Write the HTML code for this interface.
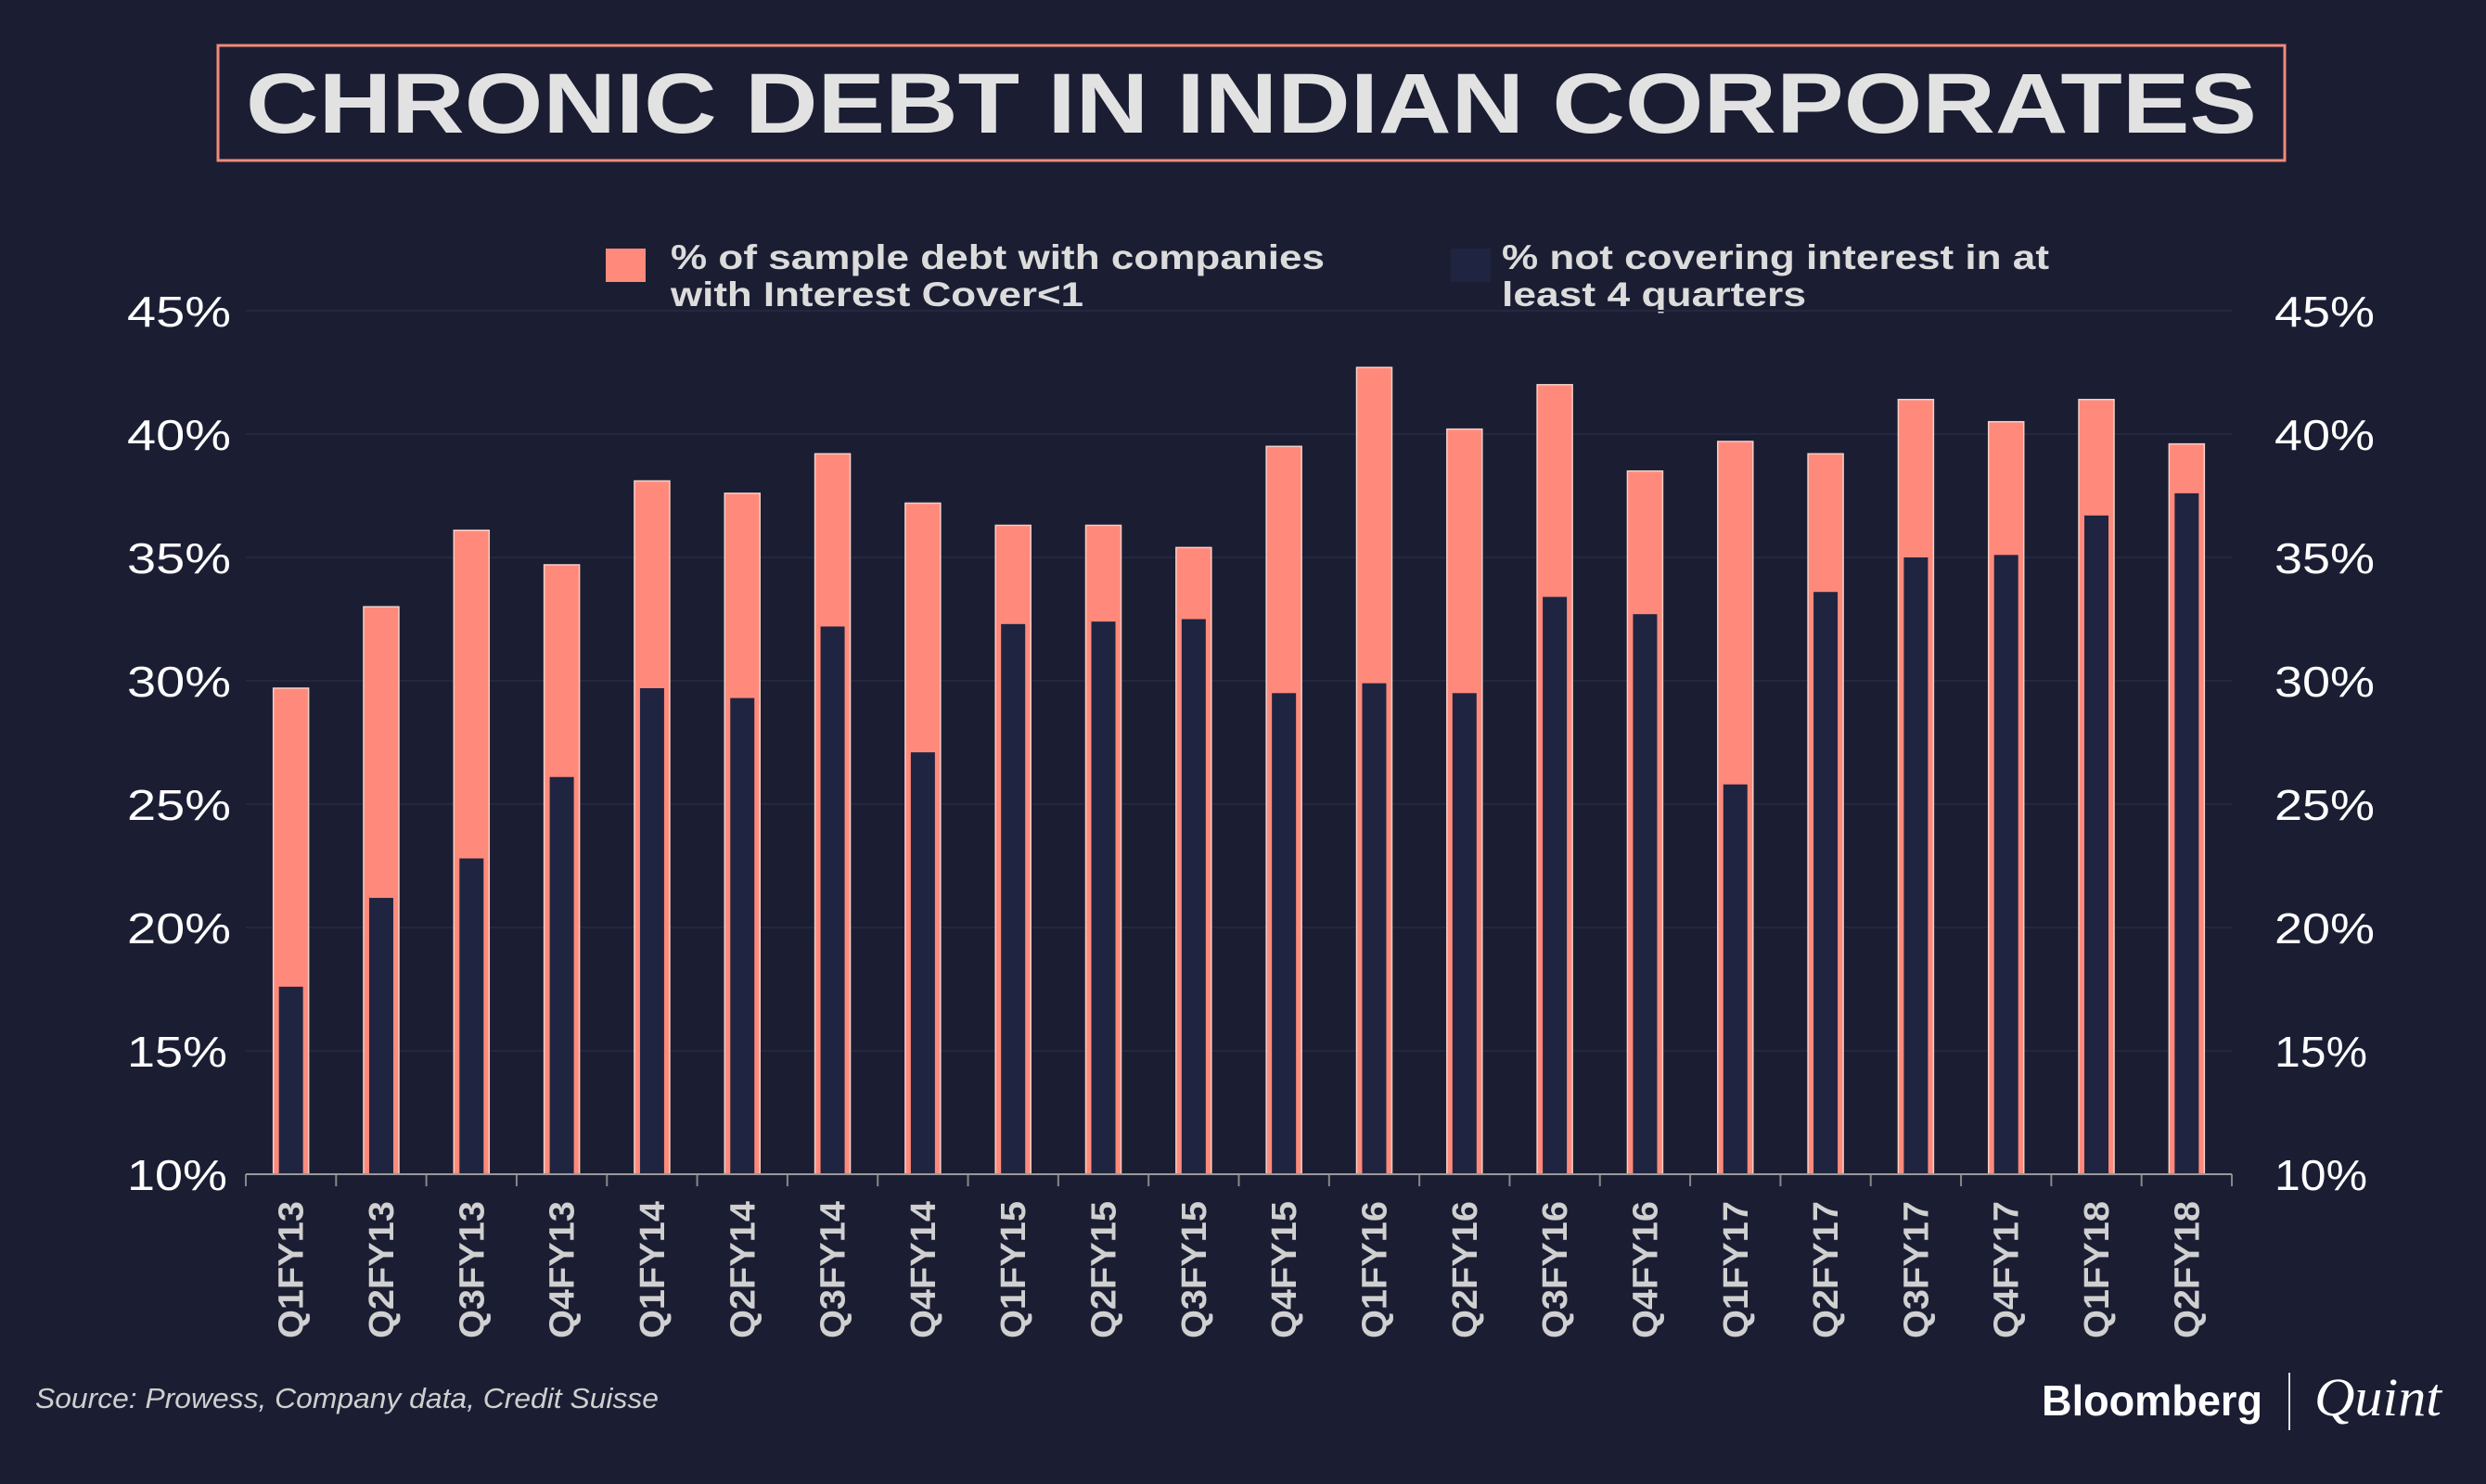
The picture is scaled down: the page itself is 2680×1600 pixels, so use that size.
<!DOCTYPE html>
<html><head><meta charset="utf-8"><style>
html,body{margin:0;padding:0;background:#1b1e33;}
svg{display:block;}
text{font-family:"Liberation Sans",sans-serif;}
</style></head><body>
<svg id="chart" width="2680" height="1600" viewBox="0 0 2680 1600">
<rect x="0" y="0" width="2680" height="1600" fill="#1b1e33"/>
<rect x="235" y="49" width="2228" height="124" fill="none" stroke="#f08a7a" stroke-width="3"/>
<text x="1349" y="143" text-anchor="middle" font-size="92" font-weight="bold" fill="#e2e2e2" textLength="2168" lengthAdjust="spacingAndGlyphs">CHRONIC DEBT IN INDIAN CORPORATES</text>
<g>
<rect x="653" y="268" width="43" height="36" fill="#ff8a7c"/>
<text font-size="37" font-weight="bold" fill="#dcdcdc"><tspan x="723" y="290" textLength="705" lengthAdjust="spacingAndGlyphs">% of sample debt with companies</tspan><tspan x="723" y="330" textLength="445" lengthAdjust="spacingAndGlyphs">with Interest Cover&lt;1</tspan></text>
<rect x="1564" y="268" width="43" height="36" fill="#1f2540"/>
<text font-size="37" font-weight="bold" fill="#dcdcdc"><tspan x="1619" y="290" textLength="590" lengthAdjust="spacingAndGlyphs">% not covering interest in at</tspan><tspan x="1619" y="330" textLength="328" lengthAdjust="spacingAndGlyphs">least 4 quarters</tspan></text>
</g>
<g id="grid"></g><g id="bars"></g><g id="axes"></g>
<text x="38" y="1518" font-size="31" font-style="italic" fill="#cfcfcf" textLength="672" lengthAdjust="spacingAndGlyphs">Source: Prowess, Company data, Credit Suisse</text>
<text x="2201" y="1526" font-size="46" font-weight="bold" fill="#ffffff" textLength="238" lengthAdjust="spacingAndGlyphs">Bloomberg</text>
<line x1="2468" y1="1480" x2="2468" y2="1542" stroke="#ddd" stroke-width="2"/>
<text x="2495" y="1526" font-size="58" font-style="italic" style="font-family:'Liberation Serif',serif" fill="#ffffff" textLength="137" lengthAdjust="spacingAndGlyphs">Quint</text>
</svg>
<script>
const categories=["Q1FY13","Q2FY13","Q3FY13","Q4FY13","Q1FY14","Q2FY14","Q3FY14","Q4FY14","Q1FY15","Q2FY15","Q3FY15","Q4FY15","Q1FY16","Q2FY16","Q3FY16","Q4FY16","Q1FY17","Q2FY17","Q3FY17","Q4FY17","Q1FY18","Q2FY18"];
const interestCover=[29.7,33.0,36.1,34.7,38.1,37.6,39.2,37.2,36.3,36.3,35.4,39.5,42.7,40.2,42.0,38.5,39.7,39.2,41.4,40.5,41.4,39.6];
const notCovering=[17.6,21.2,22.8,26.1,29.7,29.3,32.2,27.1,32.3,32.4,32.5,29.5,29.9,29.5,33.4,32.7,25.8,33.6,35.0,35.1,36.7,37.6];
const yTicks=[10,15,20,25,30,35,40,45];
const yTickLabels=["10%","15%","20%","25%","30%","35%","40%","45%"];
const NS="http://www.w3.org/2000/svg";
const X0=265,X1=2406,Y0=1266,Y45=335,VMIN=10,VMAX=45;
const step=(X1-X0)/categories.length;
function y(v){return Y0-(v-VMIN)/(VMAX-VMIN)*(Y0-Y45);}
function xc(i){return X0+step*(i+0.5);}
function mk(tag,attrs,parent){const e=document.createElementNS(NS,tag);for(const k in attrs)e.setAttribute(k,attrs[k]);parent.appendChild(e);return e;}
const grid=document.getElementById('grid'),bars=document.getElementById('bars'),axes=document.getElementById('axes');
yTicks.forEach((t,i)=>{
  if(i>0){const g=mk('line',{x1:X0,x2:X1,y1:y(t),y2:y(t),stroke:'#23283f','stroke-width':2},grid);
  
  }
  const l=mk('text',{x:137,y:y(t)+17,'font-size':46,fill:'#ffffff',textLength:(t>=10&&String(t)[0]==='1'?108:112),lengthAdjust:'spacingAndGlyphs'},axes);l.textContent=yTickLabels[i];
  
  
  const r=mk('text',{x:2452,y:y(t)+17,'font-size':46,fill:'#ffffff',textLength:(String(t)[0]==='1'?100:108),lengthAdjust:'spacingAndGlyphs'},axes);r.textContent=yTickLabels[i];
  
  
});
categories.forEach((c,i)=>{
  const cx=xc(i);
  const p=mk('rect',{x:cx-19,y:y(interestCover[i]),width:38,height:Y0-y(interestCover[i]),fill:'#ff8a7c',stroke:'#f4d0c8','stroke-width':1.5},bars);
  
  
  const n=mk('rect',{x:cx-13,y:y(notCovering[i]),width:26,height:Y0-y(notCovering[i]),fill:'#1f2540'},bars);
  
  
  const t=mk('text',{transform:`translate(${cx+13},1443) rotate(-90)`,'font-size':38,'font-weight':'bold',fill:'#d0d0d0',textLength:148,lengthAdjust:'spacingAndGlyphs'},axes);t.textContent=c;
  
  
});
for(let i=0;i<=categories.length;i++){
  const tk=mk('line',{x1:X0+step*i,x2:X0+step*i,y1:Y0,y2:Y0+13,stroke:'#888','stroke-width':2},axes);
  
  
}
const ax=mk('line',{x1:X0,x2:X1,y1:Y0,y2:Y0,stroke:'#999','stroke-width':2},axes);


</script>
</body></html>
